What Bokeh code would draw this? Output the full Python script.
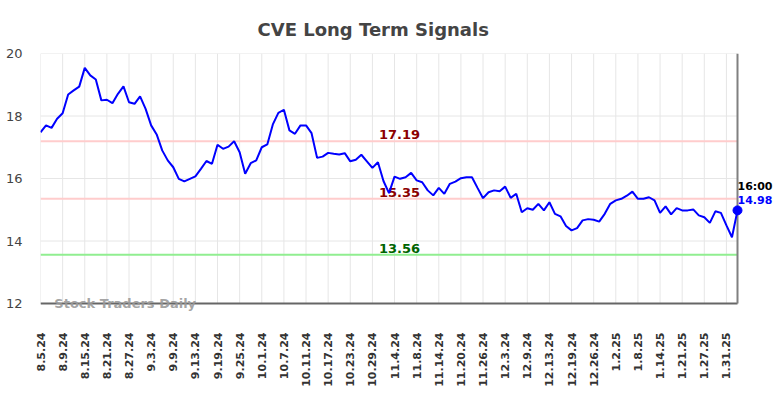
import math
from bokeh.plotting import figure
from bokeh.models import Range1d, FixedTicker, Label, ColumnDataSource
from bokeh.embed import file_html
from bokeh.resources import INLINE

prices = [
    17.48, 17.70, 17.62, 17.91, 18.09, 18.69, 18.82, 18.94, 19.54, 19.30,
    19.17, 18.50, 18.52, 18.41, 18.71, 18.95, 18.44, 18.39, 18.63, 18.23,
    17.70, 17.41, 16.90, 16.58, 16.36, 15.99, 15.91, 15.99, 16.07, 16.31,
    16.56, 16.47, 17.08, 16.95, 17.02, 17.19, 16.84, 16.15, 16.49, 16.58,
    17.00, 17.09, 17.73, 18.10, 18.20, 17.54, 17.43, 17.70, 17.70, 17.45,
    16.66, 16.70, 16.82, 16.79, 16.77, 16.81, 16.55, 16.60, 16.76, 16.55,
    16.34, 16.52, 15.92, 15.53, 16.06, 15.99, 16.04, 16.18, 15.94, 15.88,
    15.62, 15.46, 15.70, 15.51, 15.83, 15.90, 16.01, 16.04, 16.04, 15.70,
    15.37, 15.56, 15.62, 15.59, 15.74, 15.38, 15.51, 14.92, 15.05, 15.00,
    15.19, 14.98, 15.24, 14.87, 14.79, 14.48, 14.34, 14.41, 14.66, 14.70,
    14.68, 14.62, 14.87, 15.19, 15.30, 15.35, 15.45, 15.58, 15.35, 15.35,
    15.40, 15.30, 14.90, 15.11, 14.85, 15.05, 14.98, 14.98, 15.01, 14.82,
    14.76, 14.58, 14.95, 14.90, 14.50, 14.12, 14.98,
]
tick_labels = [
    "8.5.24", "8.9.24", "8.15.24", "8.21.24", "8.27.24", "9.3.24", "9.9.24",
    "9.13.24", "9.19.24", "9.25.24", "10.1.24", "10.7.24", "10.11.24",
    "10.17.24", "10.23.24", "10.29.24", "11.4.24", "11.8.24", "11.14.24",
    "11.20.24", "11.26.24", "12.3.24", "12.9.24", "12.13.24", "12.19.24",
    "12.26.24", "1.2.25", "1.8.25", "1.14.25", "1.21.25", "1.27.25", "1.31.25",
]
tick_step = 4
resistance_high = 17.19
resistance_low = 15.35
support = 13.56
y_ticks = [12, 14, 16, 18, 20]
last_time = "16:00"

FONT = "DejaVu Sans"
n = len(prices)
last = n - 1
idx = list(range(n))
tick_pos = [i * tick_step for i in range(len(tick_labels))]
y_lo, y_hi = y_ticks[0], y_ticks[-1]

# frame: extends beyond the data area so the side texts are not clipped
px_per_x = 697 / last
px_per_y = 250 / (y_hi - y_lo)
x_end = 735 / px_per_x
y_start = y_lo - 9 / px_per_y

p = figure(width=784, height=398, output_backend="svg", toolbar_location=None,
           x_range=Range1d(0, x_end), y_range=Range1d(y_start, y_hi),
           min_border_left=40, min_border_right=9, min_border_top=53,
           min_border_bottom=86)
p.outline_line_color = None
p.xgrid.visible = False
p.ygrid.visible = False

p.title.text = "CVE Long Term Signals"
p.title.align = "left"
p.title.offset = 217
p.title.text_font = FONT
p.title.text_font_size = "18px"
p.title.text_font_style = "bold"
p.title.text_color = "#444444"
p.title.standoff = 27

xa = p.xaxis[0]
xa.ticker = FixedTicker(ticks=tick_pos)
xa.major_label_overrides = {pos: lab for pos, lab in zip(tick_pos, tick_labels)}
xa.major_label_orientation = math.pi / 2
xa.major_label_text_font = FONT
xa.major_label_text_font_size = "11px"
xa.major_label_text_font_style = "bold"
xa.major_label_text_color = "#333333"
xa.major_tick_line_color = None
xa.minor_tick_line_color = None
xa.axis_line_color = None
xa.major_label_standoff = 14

ya = p.yaxis[0]
ya.ticker = FixedTicker(ticks=y_ticks)
ya.major_label_text_font = FONT
ya.major_label_text_font_size = "13px"
ya.major_label_text_color = "#444444"
ya.major_tick_line_color = None
ya.minor_tick_line_color = None
ya.axis_line_color = None
ya.major_label_standoff = 12

# grid (lowest level)
p.segment(x0=tick_pos, x1=tick_pos, y0=[y_lo] * len(tick_pos), y1=[y_hi] * len(tick_pos),
          line_color="#e6e6e6", line_width=1, level="image")
p.segment(x0=[0] * len(y_ticks), x1=[last] * len(y_ticks), y0=y_ticks, y1=y_ticks,
          line_color="#e6e6e6", line_width=1, level="image")

# signal lines
levels = [resistance_high, resistance_low, support]
line_cols = ["#ffcccc", "#ffcccc", "#90ee90"]
text_cols = ["#8b0000", "#8b0000", "#006400"]
p.segment(x0=[0] * 3, x1=[last] * 3, y0=levels, y1=levels, line_color=line_cols,
          line_width=2, level="image")
mid = last / 2 + 1.9
for lvl, col in zip(levels, text_cols):
    p.add_layout(Label(x=mid, y=lvl, text=f"{lvl:.2f}", text_align="center",
                       text_baseline="bottom", y_offset=2, text_font=FONT,
                       text_font_size="13px", text_font_style="bold", text_color=col,
                       level="underlay"))

# axis lines
p.segment(x0=[0], x1=[last], y0=[y_lo], y1=[y_lo], line_color="#666666", line_width=2)
p.segment(x0=[last], x1=[last], y0=[y_lo], y1=[y_hi], line_color="#808080", line_width=2)

src = ColumnDataSource(dict(x=idx, y=prices))
p.line("x", "y", source=src, line_color="#0000ff", line_width=2)
p.scatter([last], [prices[-1]], size=9, color="#0000ff")

p.add_layout(Label(x=last, y=prices[-1], text=last_time, text_align="left",
                   text_baseline="middle", y_offset=24, text_font=FONT,
                   text_font_size="11px", text_font_style="bold", text_color="#000000"))
p.add_layout(Label(x=last, y=prices[-1], text=f"{prices[-1]:.2f}", text_align="left",
                   text_baseline="middle", y_offset=10, text_font=FONT,
                   text_font_size="11px", text_font_style="bold", text_color="#0000ff"))

p.add_layout(Label(x=2.5, y=y_lo, text="Stock Traders Daily", text_align="left",
                   text_baseline="middle", text_font=FONT, text_font_size="13px",
                   text_font_style="bold", text_color="#999999", text_alpha=0.9))

open("out.html", "w").write(file_html(p, INLINE))
